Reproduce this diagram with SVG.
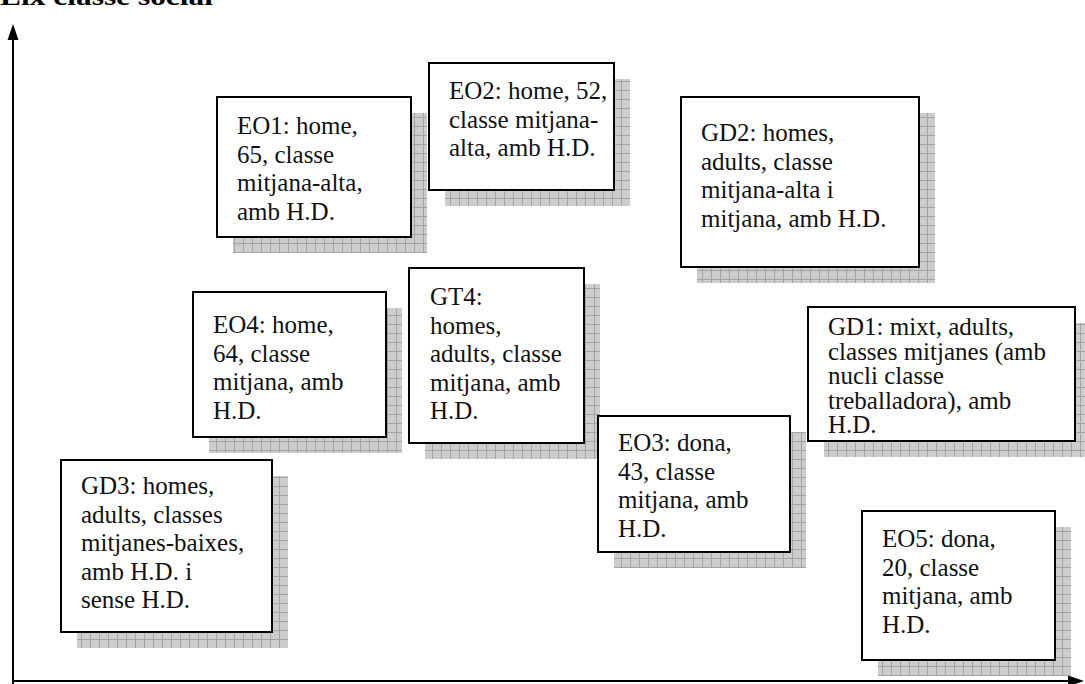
<svg xmlns="http://www.w3.org/2000/svg" width="1085" height="684" viewBox="0 0 1085 684">
  <style>
    .box { fill: #ffffff; stroke: #000000; stroke-width: 2; }
    .shadow { fill: url(#grid); }
    .lbl { font-family: "Liberation Serif", "Times New Roman", serif; font-size: 25px; fill: #111111; }
    .title { font-family: "Liberation Serif", "Times New Roman", serif; font-size: 26px; font-weight: bold; fill: #000000; }
    .axis { stroke: #000000; stroke-width: 2; fill: none; }
    .head { fill: #000000; }
  </style>
  <defs>
    <!-- light gray grid fill used for the drop shadows -->
    <pattern id="grid" width="9" height="9" patternUnits="userSpaceOnUse">
      <rect width="9" height="9" fill="#cdcdcd"/>
      <path d="M0 0.5H9M0.5 0V9" stroke="#a3a3a3" stroke-width="1"/>
    </pattern>
  </defs>

  <text class="title" x="0" y="5" textLength="213" lengthAdjust="spacingAndGlyphs">Eix classe social</text>

  <g id="connectors">
    <line class="axis" x1="13" y1="684" x2="13" y2="38"/>
    <path class="head" d="M13 24L18.5 40L7.5 40Z"/>
    <line class="axis" x1="12" y1="681" x2="1068" y2="681"/>
    <path class="head" d="M1084 681L1068 675.5L1068 686.5Z"/>
  </g>

  <g id="EO1">
    <rect class="shadow" x="233" y="113" width="194" height="140"/>
    <rect class="box" x="217" y="97" width="194" height="140"/>
    <text class="lbl"><tspan x="237" y="134">EO1: home,</tspan><tspan x="237" y="162.5">65, classe</tspan><tspan x="237" y="191">mitjana-alta,</tspan><tspan x="237" y="219.5">amb H.D.</tspan></text>
  </g>

  <g id="EO2">
    <rect class="shadow" x="445" y="79" width="185" height="127"/>
    <rect class="box" x="429" y="63" width="185" height="127"/>
    <text class="lbl"><tspan x="449" y="99">EO2: home, 52,</tspan><tspan x="449" y="127.5">classe mitjana-</tspan><tspan x="449" y="156">alta, amb H.D.</tspan></text>
  </g>

  <g id="GD2">
    <rect class="shadow" x="697" y="113" width="238" height="170"/>
    <rect class="box" x="681" y="97" width="238" height="170"/>
    <text class="lbl"><tspan x="701" y="141">GD2: homes,</tspan><tspan x="701" y="169.5">adults, classe</tspan><tspan x="701" y="198">mitjana-alta i</tspan><tspan x="701" y="226.5">mitjana, amb H.D.</tspan></text>
  </g>

  <g id="EO4">
    <rect class="shadow" x="209" y="308" width="193" height="145"/>
    <rect class="box" x="193" y="292" width="193" height="145"/>
    <text class="lbl"><tspan x="213" y="333">EO4: home,</tspan><tspan x="213" y="361.5">64, classe</tspan><tspan x="213" y="390">mitjana, amb</tspan><tspan x="213" y="418.5">H.D.</tspan></text>
  </g>

  <g id="GT4">
    <rect class="shadow" x="425" y="284" width="175" height="175"/>
    <rect class="box" x="409" y="268" width="175" height="175"/>
    <text class="lbl"><tspan x="430" y="305">GT4:</tspan><tspan x="430" y="333.5">homes,</tspan><tspan x="430" y="362">adults, classe</tspan><tspan x="430" y="390.5">mitjana, amb</tspan><tspan x="430" y="419">H.D.</tspan></text>
  </g>

  <g id="GD1">
    <rect class="shadow" x="824" y="323" width="267" height="134"/>
    <rect class="box" x="808" y="307" width="267" height="134"/>
    <text class="lbl"><tspan x="828" y="335">GD1: mixt, adults,</tspan><tspan x="828" y="359.5">classes mitjanes (amb</tspan><tspan x="828" y="384">nucli classe</tspan><tspan x="828" y="408.5">treballadora), amb</tspan><tspan x="828" y="433">H.D.</tspan></text>
  </g>

  <g id="EO3">
    <rect class="shadow" x="614" y="432" width="192" height="136"/>
    <rect class="box" x="598" y="416" width="192" height="136"/>
    <text class="lbl"><tspan x="618" y="451">EO3: dona,</tspan><tspan x="618" y="479.5">43, classe</tspan><tspan x="618" y="508">mitjana, amb</tspan><tspan x="618" y="536.5">H.D.</tspan></text>
  </g>

  <g id="GD3">
    <rect class="shadow" x="77" y="476" width="211" height="172"/>
    <rect class="box" x="61" y="460" width="211" height="172"/>
    <text class="lbl"><tspan x="81" y="494">GD3: homes,</tspan><tspan x="81" y="522.5">adults, classes</tspan><tspan x="81" y="551">mitjanes-baixes,</tspan><tspan x="81" y="579.5">amb H.D. i</tspan><tspan x="81" y="608">sense H.D.</tspan></text>
  </g>

  <g id="EO5">
    <rect class="shadow" x="878" y="527" width="193" height="149"/>
    <rect class="box" x="862" y="511" width="193" height="149"/>
    <text class="lbl"><tspan x="882" y="547">EO5: dona,</tspan><tspan x="882" y="575.5">20, classe</tspan><tspan x="882" y="604">mitjana, amb</tspan><tspan x="882" y="632.5">H.D.</tspan></text>
  </g>
</svg>
